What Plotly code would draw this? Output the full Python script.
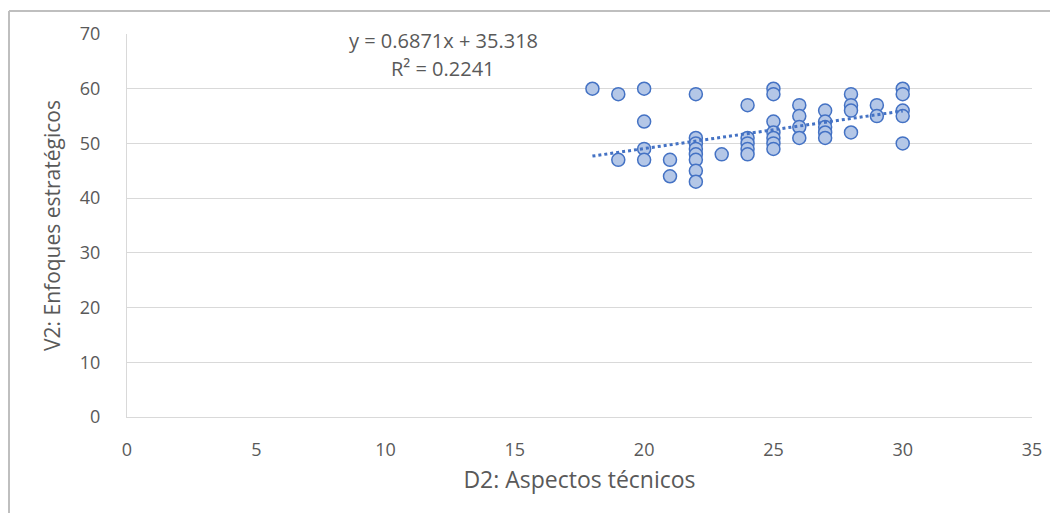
import plotly.graph_objects as go

# Data
x_vals = [18,
          19, 19,
          20, 20, 20, 20,
          21, 21,
          22, 22, 22, 22, 22, 22, 22, 22,
          23,
          24, 24, 24, 24, 24,
          25, 25, 25, 25, 25, 25, 25,
          26, 26, 26, 26,
          27, 27, 27, 27, 27,
          28, 28, 28, 28,
          29, 29,
          30, 30, 30, 30, 30]
y_vals = [60,
          59, 47,
          60, 54, 49, 47,
          47, 44,
          59, 51, 50, 49, 48, 47, 45, 43,
          48,
          57, 51, 50, 49, 48,
          60, 59, 54, 52, 51, 50, 49,
          57, 55, 53, 51,
          56, 54, 53, 52, 51,
          59, 57, 56, 52,
          57, 55,
          60, 59, 56, 55, 50]

slope = 0.6871
intercept = 35.318
r2 = 0.2241
trend_x = [min(x_vals), max(x_vals)]
trend_y = [slope * v + intercept for v in trend_x]

x_ticks = [0, 5, 10, 15, 20, 25, 30, 35]
y_ticks = [0, 10, 20, 30, 40, 50, 60, 70]

gray = "#595959"
FONT = "Open Sans, Noto Sans, sans-serif"

# page has an 8px body margin; plot area target (absolute): left 127, right 1032, top 34, bottom 417
OFF = 8
PL, PR, PT, PB = 127, 1032, 34, 417
PW, PH = PR - PL, PB - PT


def px(ax):
    return (ax - PL) / PW


def py(ay):
    return (PB - ay) / PH


fig = go.Figure()
fig.add_trace(go.Scatter(
    x=x_vals, y=y_vals, mode="markers",
    marker=dict(size=13, color="#b4c7e7", line=dict(color="#4472c4", width=1.5)),
    showlegend=False, hoverinfo="x+y"))
fig.add_trace(go.Scatter(
    x=trend_x, y=trend_y, mode="lines",
    line=dict(color="#4472c4", width=3, dash="dot"),
    showlegend=False, hoverinfo="skip"))

fig.update_layout(
    width=1058 - OFF, height=513 - OFF,
    margin=dict(l=PL - OFF, r=1058 - PR, t=PT - OFF, b=513 - PB),
    paper_bgcolor="white", plot_bgcolor="white",
    font=dict(family=FONT, color=gray),
    xaxis=dict(range=[0, 35], tickvals=x_ticks, showgrid=False, zeroline=False,
               showline=True, linecolor="#d9d9d9", linewidth=1,
               ticks="", tickfont=dict(size=18, family=FONT, color=gray),
               ticklabelstandoff=16,
               title=dict(text="D2: Aspectos técnicos", font=dict(size=23, color=gray,
                          family=FONT), standoff=12)),
    yaxis=dict(range=[0, 70], tickvals=y_ticks, showgrid=True, gridcolor="#d9d9d9",
               gridwidth=1, zeroline=False, showline=True, linecolor="#d9d9d9",
               ticks="", tickfont=dict(size=18, color=gray, family=FONT),
               ticklabelstandoff=22,
               title=dict(text="V2: Enfoques estratégicos", font=dict(size=21, color=gray,
                          family=FONT), standoff=13)),
    annotations=[
        dict(xref="paper", yref="paper", x=px(443), y=py(25),
             text=f"y = {slope}x + {intercept}", showarrow=False,
             font=dict(size=20, color=gray, family=FONT)),
        dict(xref="paper", yref="paper", x=px(443), y=py(53),
             text=f"R² = {r2}", showarrow=False,
             font=dict(size=20, color=gray, family=FONT)),
    ],
    shapes=[
        dict(type="line", xref="paper", yref="paper",
             x0=px(9), x1=px(1058), y0=py(11), y1=py(11),
             line=dict(color="#bfbfbf", width=2)),
        dict(type="line", xref="paper", yref="paper",
             x0=px(9), x1=px(9), y0=py(11), y1=py(513),
             line=dict(color="#bfbfbf", width=2)),
    ],
)

fig.write_html("out.html")
